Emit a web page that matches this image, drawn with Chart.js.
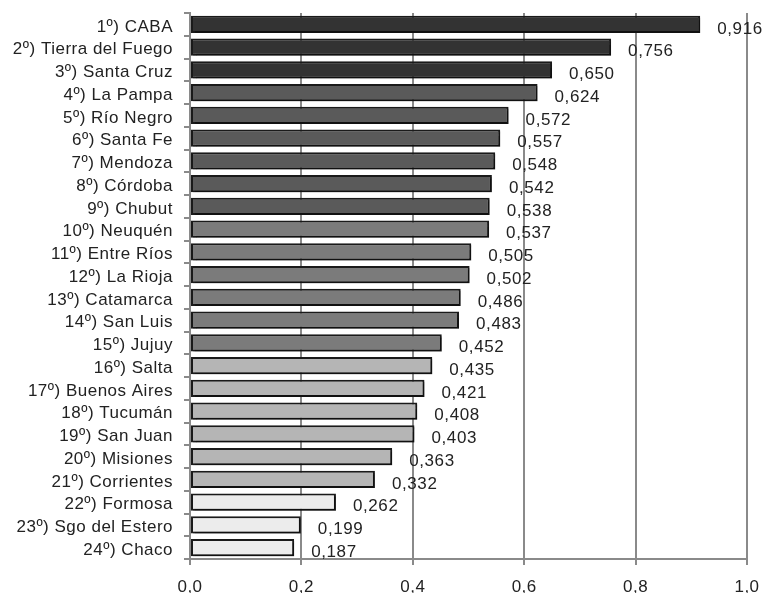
<!DOCTYPE html>
<html>
<head>
<meta charset="utf-8">
<script src="https://cdn.jsdelivr.net/npm/chart.js@4/dist/chart.umd.min.js"></script>
<style>
  html, body { margin: 0; padding: 0; background: #ffffff; }
  #wrap { width: 764px; height: 593px; position: relative; }
</style>
</head>
<body>
<div id="wrap"><canvas id="chart"></canvas></div>
<script>
// Ranking por provincia
const provincias = [
  "1º) CABA", "2º) Tierra del Fuego", "3º) Santa Cruz", "4º) La Pampa",
  "5º) Río Negro", "6º) Santa Fe", "7º) Mendoza", "8º) Córdoba",
  "9º) Chubut", "10º) Neuquén", "11º) Entre Ríos", "12º) La Rioja",
  "13º) Catamarca", "14º) San Luis", "15º) Jujuy", "16º) Salta",
  "17º) Buenos Aires", "18º) Tucumán", "19º) San Juan", "20º) Misiones",
  "21º) Corrientes", "22º) Formosa", "23º) Sgo del Estero", "24º) Chaco"
];
const indice = [
  0.916, 0.756, 0.650, 0.624, 0.572, 0.557, 0.548, 0.542,
  0.538, 0.537, 0.505, 0.502, 0.486, 0.483, 0.452, 0.435,
  0.421, 0.408, 0.403, 0.363, 0.332, 0.262, 0.199, 0.187
];
const ticksX = [0, 0.2, 0.4, 0.6, 0.8, 1.0];

// Tonos de gris por grupo de provincias
const tonos = [
  "#333333", "#333333", "#333333",
  "#5a5a5a", "#5a5a5a", "#5a5a5a", "#5a5a5a", "#5a5a5a", "#5a5a5a",
  "#7b7b7b", "#7b7b7b", "#7b7b7b", "#7b7b7b", "#7b7b7b", "#7b7b7b",
  "#b5b5b5", "#b5b5b5", "#b5b5b5", "#b5b5b5", "#b5b5b5", "#b5b5b5",
  "#ececec", "#ececec", "#ececec"
];

const coma = v => v.toFixed(3).replace(".", ",");
const FONT = "'Liberation Sans', Arial, sans-serif";

// Espaciado de letras algo abierto para todos los textos
const espaciado = {
  id: "espaciado",
  beforeDraw(chart) { chart.ctx.letterSpacing = "0.5px"; }
};

// Etiquetas con el valor a la derecha de cada barra
const etiquetas = {
  id: "etiquetas",
  afterDatasetsDraw(chart) {
    const ctx = chart.ctx;
    const meta = chart.getDatasetMeta(0);
    ctx.save();
    ctx.font = "17px " + FONT;
    ctx.letterSpacing = "0.6px";
    ctx.fillStyle = "#222222";
    ctx.textAlign = "left";
    ctx.textBaseline = "middle";
    meta.data.forEach((bar, i) => {
      ctx.fillText(coma(indice[i]), bar.x + 17, bar.y + 4.5);
    });
    ctx.restore();
  }
};

// Sombra leve bajo las barras
const sombra = {
  id: "sombra",
  beforeDatasetsDraw(chart) {
    const ctx = chart.ctx;
    ctx.save();
    ctx.shadowColor = "rgba(0,0,0,0.35)";
    ctx.shadowOffsetX = 2;
    ctx.shadowOffsetY = 2;
    ctx.shadowBlur = 1;
  },
  afterDatasetsDraw(chart) {
    chart.ctx.restore();
  }
};

new Chart(document.getElementById("chart"), {
  type: "bar",
  data: {
    labels: provincias,
    datasets: [{
      data: indice,
      backgroundColor: tonos,
      borderColor: "#1a1a1a",
      borderWidth: 2,
      borderSkipped: false,
      categoryPercentage: 1.0,
      barPercentage: 0.76
    }]
  },
  options: {
    indexAxis: "y",
    responsive: true,
    maintainAspectRatio: false,
    animation: false,
    layout: { padding: { top: 13, right: 17, bottom: 0, left: 0 } },
    plugins: {
      legend: { display: false },
      tooltip: { enabled: false }
    },
    scales: {
      x: {
        min: 0,
        max: 1,
        afterBuildTicks(scale) {
          scale.ticks = ticksX.map(v => ({ value: v }));
        },
        afterFit(scale) {
          scale.height = 34;
          scale.paddingLeft = 0;
          scale.paddingRight = 0;
        },
        ticks: {
          callback: v => Number(v).toFixed(1).replace(".", ","),
          font: { family: FONT, size: 17 },
          color: "#222222",
          padding: 12
        },
        grid: {
          color: "#8a8a8a",
          lineWidth: 2,
          tickLength: 6
        },
        border: { color: "#8a8a8a", width: 2 }
      },
      y: {
        afterFit(scale) {
          scale.width = 190;
          scale.paddingTop = 0;
          scale.paddingBottom = 0;
        },
        ticks: {
          autoSkip: false,
          font: { family: FONT, size: 17 },
          color: "#222222",
          padding: 11,
          labelOffset: 2.5
        },
        grid: {
          offset: true,
          drawOnChartArea: false,
          color: "#8a8a8a",
          lineWidth: 2,
          tickLength: 6
        },
        border: { color: "#8a8a8a", width: 2 }
      }
    }
  },
  plugins: [espaciado, sombra, etiquetas]
});
</script>
</body>
</html>
